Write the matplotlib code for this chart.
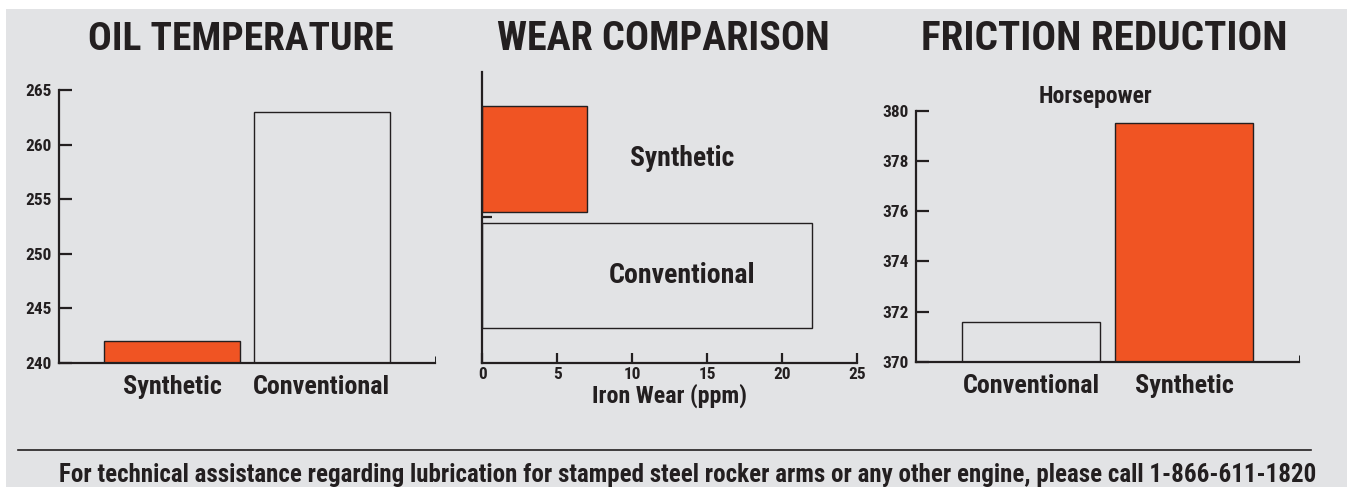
import matplotlib
matplotlib.use("Agg")
import matplotlib.pyplot as plt
from matplotlib import font_manager
from matplotlib.patches import Rectangle
from matplotlib.lines import Line2D

# --- data ---
oil_labels = ["Synthetic", "Conventional"]
oil_temp = [242, 263]
oil_ticks = [240, 245, 250, 255, 260, 265]

wear_labels = ["Conventional", "Synthetic"]
wear_ppm = [22, 7]
wear_ticks = [0, 5, 10, 15, 20, 25]

hp_labels = ["Conventional", "Synthetic"]
hp_values = [371.6, 379.5]
hp_ticks = [370, 372, 374, 376, 378, 380]

ORANGE = "#f05423"
BG = "#e2e3e5"
INK = "#231f20"

names = {f.name for f in font_manager.fontManager.ttflist}
if "Liberation Sans Narrow" in names:
    FONT = dict(family="Liberation Sans Narrow", weight="bold")
elif "Roboto Condensed" in names:
    FONT = dict(family="Roboto Condensed", weight="bold")
else:
    FONT = dict(family="DejaVu Sans", weight="bold", stretch="condensed")

W, H = 1347, 487
fig = plt.figure(figsize=(W / 100, H / 100), dpi=100, facecolor="white")
fig.patches.append(Rectangle((6 / W, 0), 1, 1 - 9 / H, transform=fig.transFigure,
                             facecolor=BG, edgecolor="none", zorder=-10))
renderer = fig.canvas.get_renderer()


def fit(txt, width_px):
    # scale the font so the text is as wide as in the reference
    w = txt.get_window_extent(renderer).width
    txt.set_fontsize(txt.get_fontsize() * width_px / w)


def px_axes(x0, y0, x1, y1):
    return fig.add_axes([x0 / W, 1 - y1 / H, (x1 - x0) / W, (y1 - y0) / H])


def style(ax):
    ax.set_facecolor("none")
    for s in ["top", "right"]:
        ax.spines[s].set_visible(False)
    for s in ["left", "bottom"]:
        ax.spines[s].set_linewidth(1.6)
        ax.spines[s].set_color(INK)
    ax.tick_params(colors=INK, width=1.6, direction="in")


def tick_font(labels, size):
    for lab in labels:
        lab.set_fontproperties(font_manager.FontProperties(size=size, **FONT))
        lab.set_color(INK)


def title(x, y, s, width_px, size=30):
    t = fig.text(x / W, 1 - y / H, s, ha="center", va="center",
                 fontsize=size, color=INK, **FONT)
    fit(t, width_px)
    return t


# measure sizes once with a probe text
probe = fig.text(0, 0, "265", fontsize=12, **FONT)
fit(probe, 26)
TICK = probe.get_fontsize()
probe.set_text("Synthetic")
probe.set_fontsize(18)
fit(probe, 98)
CAT = probe.get_fontsize()
probe.remove()

# ---- panel 1: oil temperature ----
ax1 = px_axes(59, 90, 435, 362.7)
style(ax1)
ax1.bar([0, 1], [t - 240 for t in oil_temp], bottom=240, width=0.91,
        color=[ORANGE, "none"], edgecolor=INK, linewidth=1.0)
ax1.set_ylim(240, 265)
ax1.set_xlim(-0.756, 1.759)
ax1.set_yticks(oil_ticks)
ax1.set_xticks([0, 1])
ax1.set_xticklabels(oil_labels)
ax1.set_xticks([1.759], minor=True)
ax1.tick_params(axis="y", length=9, pad=5)
ax1.tick_params(axis="x", which="major", length=0, pad=9)
ax1.tick_params(axis="x", which="minor", length=5, direction="in")
tick_font(ax1.get_yticklabels(), TICK)
tick_font(ax1.get_xticklabels(), CAT)
title(241, 39, "OIL TEMPERATURE", 305)

# ---- panel 2: wear comparison ----
ax2 = px_axes(482.3, 72, 857.3, 362.7)
style(ax2)
ax2.barh([0, 1], wear_ppm, height=0.906,
         color=["none", ORANGE], edgecolor=INK, linewidth=1.0)
ax2.set_xlim(0, 25)
ax2.set_ylim(-0.751, 1.747)
ax2.set_xticks(wear_ticks)
ax2.set_yticks([0.5])
ax2.set_yticklabels([""])
ax2.tick_params(axis="y", length=7)
ax2.tick_params(axis="x", length=7, pad=3)
tick_font(ax2.get_xticklabels(), TICK)
for yi, lab, wpx in zip([0, 1], wear_labels, [146, 104]):
    t = ax2.text(13.3, yi, lab, ha="center", va="center", fontsize=18, color=INK, **FONT)
    fit(t, wpx)
xl = ax2.set_xlabel("Iron Wear (ppm)", fontsize=17, color=INK, labelpad=1, **FONT)
fit(xl, 155)
title(663, 39, "WEAR COMPARISON", 333)

# ---- panel 3: friction reduction ----
ax3 = px_axes(916, 110.7, 1299, 361.7)
style(ax3)
ax3.bar([0, 1], [v - 370 for v in hp_values], bottom=370, width=0.90,
        color=["none", ORANGE], edgecolor=INK, linewidth=1.0)
ax3.set_ylim(370, 380)
ax3.set_xlim(-0.751, 1.747)
ax3.set_yticks(hp_ticks)
ax3.set_xticks([0, 1])
ax3.set_xticklabels(hp_labels)
ax3.set_xticks([1.747], minor=True)
ax3.tick_params(axis="y", length=9, pad=5)
ax3.tick_params(axis="x", which="major", length=0, pad=9)
ax3.tick_params(axis="x", which="minor", length=5, direction="in")
tick_font(ax3.get_yticklabels(), TICK)
tick_font(ax3.get_xticklabels(), CAT)
title(1095, 97, "Horsepower", 114, size=17)
title(1104, 39, "FRICTION REDUCTION", 366)

# ---- footer ----
fig.add_artist(Line2D([18 / W, 1311 / W], [1 - 450 / H] * 2, transform=fig.transFigure,
                      color=INK, linewidth=1.2))
title(688, 475,
      "For technical assistance regarding lubrication for stamped steel rocker arms "
      "or any other engine, please call 1-866-611-1820", 1263, size=14)

fig.savefig("out.png", dpi=100, facecolor=fig.get_facecolor())
